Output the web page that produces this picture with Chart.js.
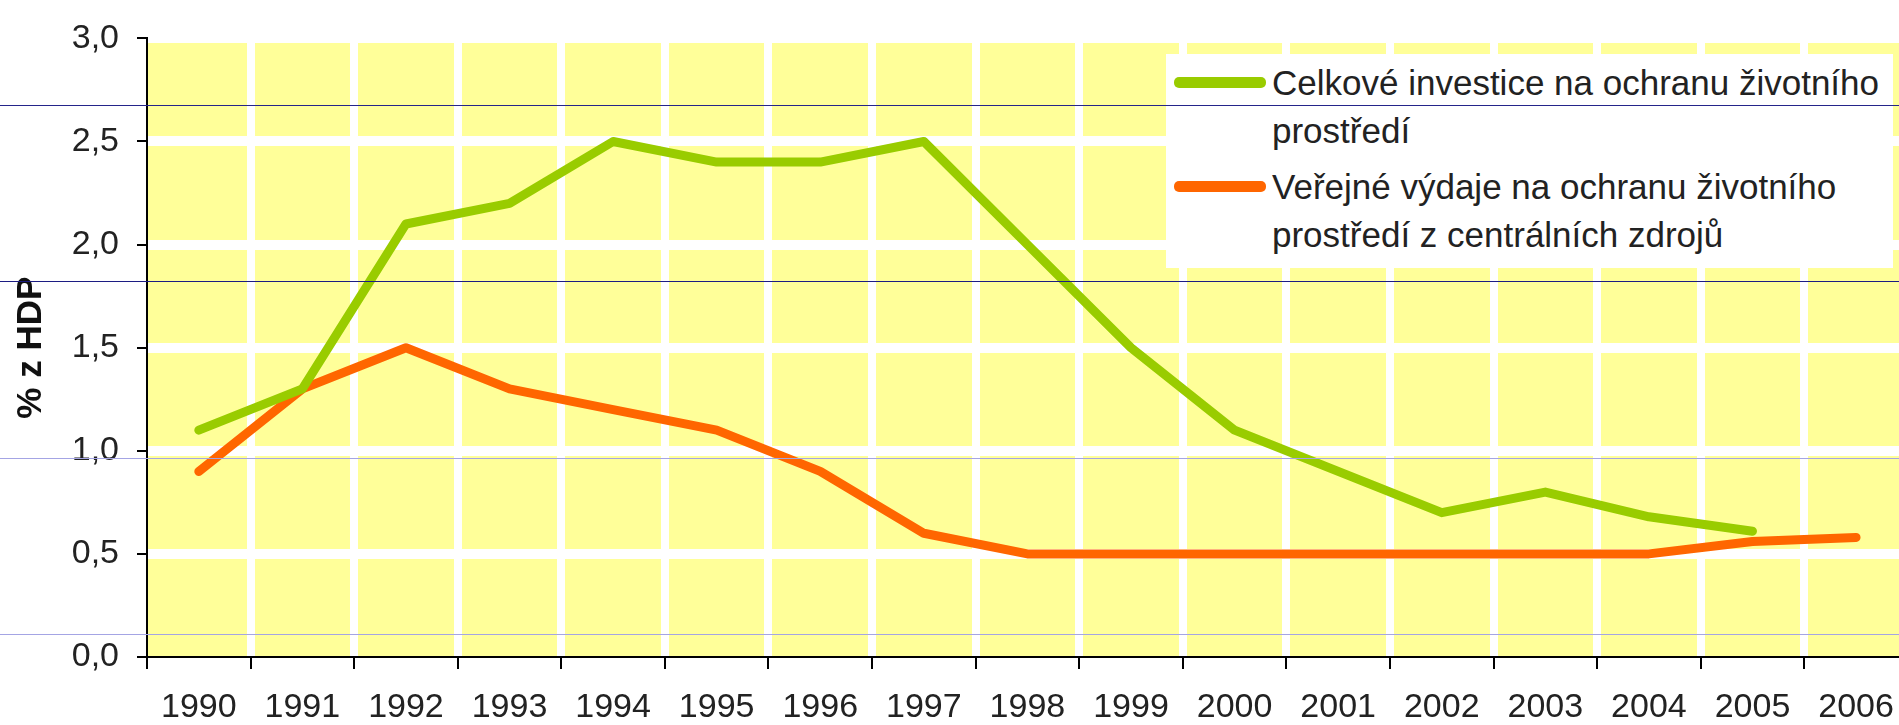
<!DOCTYPE html>
<html lang="cs">
<head>
<meta charset="utf-8">
<title>Investice a výdaje na ochranu životního prostředí</title>
<script src="https://cdn.jsdelivr.net/npm/chart.js@4.4.1/dist/chart.umd.min.js"></script>
<style>
  html, body { margin: 0; padding: 0; background: #fff; overflow: hidden; }
  body { width: 1899px; height: 725px; }
  #wrap { position: relative; width: 1912px; height: 725px; }
  #legend {
    position: absolute; left: 1166px; top: 54px; width: 727px; height: 214px;
    background: #fff; font-family: 'Liberation Sans', Arial, sans-serif;
    font-size: 35px; line-height: 48px; color: #222;
  }
  #legend .item { position: absolute; left: 0; }
  #legend .swatch { position: absolute; left: 8px; width: 92px; height: 11px; border-radius: 5px; }
  #legend .text { position: absolute; left: 106px; white-space: nowrap; }
  .rule { position: absolute; left: 0; width: 1899px; height: 1px; }
</style>
</head>
<body>
<div id="wrap">
  <canvas id="chart" width="1912" height="725"></canvas>
  <div id="legend"></div>
  <div class="rule" style="top:105px;background:#24248a"></div>
  <div class="rule" style="top:281px;background:#1c1c82"></div>
  <div class="rule" style="top:458px;background:#a4a4e4"></div>
  <div class="rule" style="top:634px;background:#a4a4e4"></div>
</div>
<script>
// Data
const YEARS = ['1990', '1991', '1992', '1993', '1994', '1995', '1996', '1997', '1998',
               '1999', '2000', '2001', '2002', '2003', '2004', '2005', '2006'];
const TOTAL_INVESTMENT = [1.1, 1.3, 2.1, 2.2, 2.5, 2.4, 2.4, 2.5, 2.0, 1.5, 1.1, 0.9, 0.7, 0.8, 0.68, 0.61, null];
const PUBLIC_SPENDING = [0.9, 1.3, 1.5, 1.3, 1.2, 1.1, 0.9, 0.6, 0.5, 0.5, 0.5, 0.5, 0.5, 0.5, 0.5, 0.56, 0.58];
const Y_TICKS = [0, 0.5, 1.0, 1.5, 2.0, 2.5, 3.0];
const SERIES_LABELS = [
    ['Celkové investice na ochranu životního', 'prostředí'],
    ['Veřejné výdaje na ochranu životního', 'prostředí z centrálních zdrojů']
];
const Y_TITLE = '% z HDP';

// Colors
const GREEN = '#99cc00';
const ORANGE = '#ff6600';
const PLOT_BG = '#ffff99';
const TEXT_COLOR = '#222222';
const HIDDEN = 'rgba(0,0,0,0)';

// Fonts
const FONT_FAMILY = "'Liberation Sans', Arial, sans-serif";

const plotBackground = {
    id: 'plotBackground',
    beforeDraw(chart) {
        const { ctx, chartArea: a } = chart;
        ctx.save();
        ctx.fillStyle = PLOT_BG;
        ctx.fillRect(a.left, a.top, a.right - a.left, a.bottom - a.top);
        ctx.restore();
    }
};

const lineStyle = {
    borderWidth: 9,
    borderCapStyle: 'round',
    borderJoinStyle: 'round',
    pointRadius: 0,
    pointHoverRadius: 0,
    tension: 0,
    fill: false
};

const data = {
    labels: YEARS,
    datasets: [
        { label: SERIES_LABELS[0].join(' '), data: TOTAL_INVESTMENT, borderColor: GREEN, backgroundColor: GREEN, ...lineStyle },
        { label: SERIES_LABELS[1].join(' '), data: PUBLIC_SPENDING, borderColor: ORANGE, backgroundColor: ORANGE, ...lineStyle }
    ]
};

const options = {
    responsive: false,
    animation: false,
    layout: { padding: { top: 34, left: 0, right: 4, bottom: 0 } },
    plugins: { legend: { display: false }, tooltip: { enabled: false } },
    scales: {
        x: {
            type: 'category',
            offset: true,
            afterFit: (scale) => { scale.height = 68; },
            border: { color: '#000', width: 2 },
            grid: {
                offset: true,
                color: (c) => (c.index === 0 ? HIDDEN : '#ffffff'),
                lineWidth: 8,
                tickColor: '#000',
                tickWidth: 2,
                tickLength: 12
            },
            ticks: {
                color: TEXT_COLOR,
                padding: 18,
                maxRotation: 0,
                autoSkip: false,
                font: { family: FONT_FAMILY, size: 34 }
            }
        },
        y: {
            min: 0,
            max: 3,
            afterFit: (scale) => { scale.width = 147; },
            afterBuildTicks: (scale) => { scale.ticks = Y_TICKS.map(v => ({ value: v })); },
            border: { color: '#000', width: 2 },
            grid: {
                color: (c) => (c.tick && c.tick.value === 0 ? HIDDEN : '#ffffff'),
                lineWidth: 10,
                tickColor: '#000',
                tickWidth: 2,
                tickLength: 10
            },
            ticks: {
                color: TEXT_COLOR,
                padding: 18,
                font: { family: FONT_FAMILY, size: 34 },
                callback: (v) => Number(v).toFixed(1).replace('.', ',')
            },
            title: {
                display: true,
                text: Y_TITLE,
                color: '#111',
                padding: { top: 10, bottom: 0 },
                font: { family: FONT_FAMILY, size: 35, weight: 'bold' }
            }
        }
    }
};

const chart = new Chart(document.getElementById('chart'), {
    type: 'line',
    data: data,
    options: options,
    plugins: [plotBackground]
});

// Legend box inside the plot, two lines per series
const legend = document.getElementById('legend');
const itemTops = [5, 109];
chart.data.datasets.forEach((ds, i) => {
    const item = document.createElement('div');
    item.className = 'item';
    item.style.top = itemTops[i] + 'px';
    const swatch = document.createElement('div');
    swatch.className = 'swatch';
    swatch.style.top = '18px';
    swatch.style.background = ds.borderColor;
    const text = document.createElement('div');
    text.className = 'text';
    text.innerHTML = SERIES_LABELS[i].join('<br>');
    item.appendChild(swatch);
    item.appendChild(text);
    legend.appendChild(item);
});
</script>
</body>
</html>
